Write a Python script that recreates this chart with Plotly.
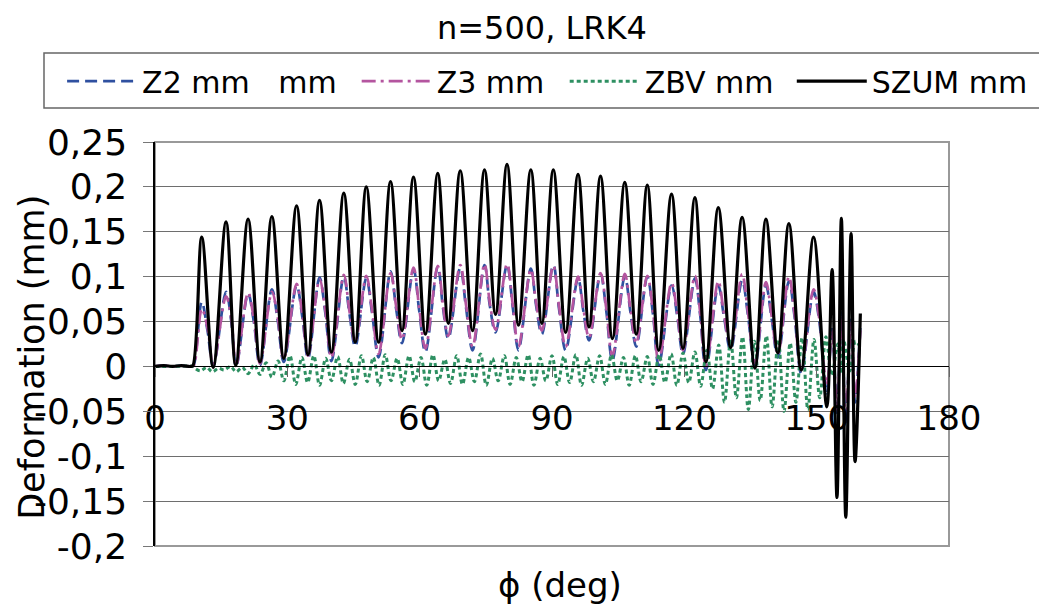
import plotly.graph_objects as go

# ---------------- data ----------------
phi_sz = [0, 2, 4, 6, 8.1, 8.6,
          10.6, 13.2, 16.1, 18.3, 21.1, 23.8, 26.5, 29.2, 32.1, 34.7,
          37.3, 40.0, 42.8, 45.4, 47.9, 50.7, 53.4, 56.0, 58.6, 61.3,
          64.1, 66.5, 69.2, 72.0, 74.7, 77.2, 79.8, 82.4, 85.2, 87.7,
          90.3, 93.1, 95.9, 98.4, 101.0, 103.7, 106.5, 109.1, 111.6, 114.2,
          117.1, 119.7, 122.4, 124.9, 127.7, 130.5, 133.1, 136.0, 138.5, 141.2,
          143.7, 146.5, 149.3, 152.3, 153.5, 154.6, 155.6, 156.6, 157.8, 158.7, 159.9]
szum = [0.0, 0.001, 0.0, 0.001, 0.0, 0.001,
        0.144, -0.001, 0.161, 0.001, 0.164, 0.005, 0.167, 0.009, 0.179, 0.013,
        0.185, 0.016, 0.193, 0.027, 0.200, 0.027, 0.206, 0.040, 0.211, 0.036,
        0.215, 0.048, 0.218, 0.040, 0.219, 0.058, 0.225, 0.046, 0.219, 0.048,
        0.219, 0.038, 0.214, 0.044, 0.212, 0.031, 0.205, 0.036, 0.202, 0.018,
        0.192, 0.020, 0.188, 0.005, 0.177, 0.021, 0.166, -0.002, 0.164, 0.015,
        0.159, -0.004, 0.144, -0.045, 0.108, -0.146, 0.165, -0.168, 0.148, -0.106, 0.059]

phi_z = [0, 2, 4, 6, 8.3, 8.8,
         10.6, 11.9, 13.2,
         16.1, 17.3, 18.4,
         21.1, 22.4, 23.8,
         26.5, 27.8, 29.2,
         32.1, 33.4, 34.7,
         37.3, 38.6, 40.0,
         42.8, 44.1, 45.4,
         47.9, 49.2, 50.7,
         53.4, 54.7, 56.0,
         58.6, 59.9, 61.3,
         64.1, 65.3, 66.5,
         69.2, 70.5, 72.0,
         74.7, 75.9, 77.2,
         79.8, 81.1, 82.4,
         85.2, 86.4, 87.7,
         90.3, 91.6, 93.1,
         95.9, 97.1, 98.4,
         101.0, 102.3, 103.7,
         106.5, 107.8, 109.1,
         111.6, 112.9, 114.2,
         117.1, 118.4, 119.7,
         122.4, 123.6, 124.9,
         127.7, 129.0, 130.5,
         133.1, 134.4, 136.0,
         138.5, 139.8, 141.2,
         143.7, 145.0, 146.5,
         149.3, 150.6, 152.3,
         153.5, 154.6, 155.6, 156.6, 157.8, 158.7, 159.9]
z2 = [0.0, 0.001, 0.0, 0.001, 0.0, 0.002,
      0.072, 0.040, 0.000,
      0.083, 0.050, 0.000,
      0.081, 0.050, 0.001,
      0.086, 0.052, 0.005,
      0.090, 0.055, 0.009,
      0.099, 0.060, 0.006,
      0.100, 0.058, 0.022,
      0.098, 0.060, 0.010,
      0.106, 0.063, 0.026,
      0.108, 0.062, 0.016,
      0.111, 0.065, 0.031,
      0.110, 0.066, 0.018,
      0.113, 0.068, 0.038,
      0.113, 0.066, 0.018,
      0.109, 0.068, 0.036,
      0.113, 0.064, 0.018,
      0.098, 0.062, 0.029,
      0.103, 0.062, 0.007,
      0.100, 0.060, 0.022,
      0.100, 0.058, 0.001,
      0.090, 0.056, 0.014,
      0.098, 0.057, -0.004,
      0.090, 0.055, 0.018,
      0.096, 0.058, 0.000,
      0.090, 0.053, 0.010,
      0.095, 0.055, -0.008,
      0.083, 0.050, -0.030,
      0.045, -0.055, 0.060, -0.065, 0.055, -0.040, 0.045]
z3 = [0.0, 0.001, 0.0, 0.001, 0.0, 0.001,
      0.064, 0.043, 0.002,
      0.078, 0.053, 0.001,
      0.082, 0.053, 0.003,
      0.083, 0.055, 0.008,
      0.092, 0.058, 0.012,
      0.097, 0.063, 0.010,
      0.102, 0.061, 0.027,
      0.101, 0.063, 0.014,
      0.104, 0.066, 0.030,
      0.110, 0.065, 0.020,
      0.112, 0.068, 0.034,
      0.113, 0.069, 0.022,
      0.114, 0.071, 0.041,
      0.114, 0.069, 0.022,
      0.108, 0.071, 0.040,
      0.112, 0.067, 0.022,
      0.100, 0.065, 0.032,
      0.104, 0.065, 0.012,
      0.103, 0.063, 0.026,
      0.101, 0.061, 0.005,
      0.093, 0.059, 0.018,
      0.101, 0.060, 0.000,
      0.095, 0.058, 0.022,
      0.103, 0.061, 0.004,
      0.094, 0.056, 0.013,
      0.100, 0.058, -0.004,
      0.086, 0.053, -0.020,
      0.040, -0.050, 0.055, -0.060, 0.050, -0.035, 0.040]

phi_bv = [0, 4, 8.5,
          9.0, 10.3, 11.7, 13.0, 14.4, 15.7, 17.1, 18.4, 19.8, 21.1,
          22.5, 23.8, 25.2, 26.5, 27.9, 29.2, 30.6, 31.9, 33.3, 34.6,
          36.0, 37.3, 38.7, 40.0, 41.4, 42.7, 44.1, 45.4, 46.8, 48.1,
          49.5, 50.8, 52.2, 53.5, 54.9, 56.2, 57.6, 58.9, 60.3, 61.6,
          63.0, 64.3, 65.7, 67.0, 68.4, 69.7, 71.1, 72.4, 73.8, 75.1,
          76.5, 77.8, 79.2, 80.5, 81.9, 83.2, 84.6, 85.9, 87.3, 88.6,
          90.0, 91.3, 92.7, 94.0, 95.4, 96.7, 98.1, 99.4, 100.8, 102.1,
          103.5, 104.8, 106.2, 107.5, 108.9, 110.2, 111.6, 112.9, 114.3, 115.6,
          117.0, 118.3, 119.7, 121.0, 122.4, 123.7, 125.1, 126.4, 127.8, 129.1,
          130.5, 131.8, 133.2, 134.5, 135.9, 137.2, 138.6, 139.9, 141.3, 142.6,
          144.0, 145.3, 146.7, 148.0, 149.4, 150.7, 152.1, 153.4, 154.8, 155.5,
          156.1, 157.5, 158.8, 160.0]
zbv = [0.0, 0.0, 0.0,
       -0.002, -0.005, -0.001, -0.006, -0.002, -0.004, 0.000, -0.006, -0.001, -0.008,
       0.002, -0.009, 0.004, -0.012, 0.006, -0.016, 0.012, -0.020, 0.010, -0.018,
       0.012, -0.021, 0.009, -0.016, 0.011, -0.019, 0.008, -0.020, 0.012, -0.017,
       0.010, -0.021, 0.013, -0.016, 0.009, -0.020, 0.012, -0.017, 0.010, -0.021,
       0.013, -0.016, 0.008, -0.019, 0.012, -0.020, 0.010, -0.017, 0.014, -0.021,
       0.009, -0.016, 0.012, -0.020, 0.010, -0.017, 0.013, -0.021, 0.009, -0.016,
       0.012, -0.020, 0.011, -0.018, 0.013, -0.021, 0.009, -0.017, 0.012, -0.020,
       0.013, -0.016, 0.010, -0.021, 0.012, -0.017, 0.011, -0.020, 0.013, -0.018,
       0.014, -0.021, 0.015, -0.018, 0.016, -0.022, 0.018, -0.025, 0.024, -0.040,
       0.030, -0.035, 0.033, -0.048, 0.028, -0.038, 0.034, -0.045, 0.030, -0.050,
       0.026, -0.040, 0.032, -0.048, 0.030, -0.035, 0.033, -0.010, 0.025, -0.008,
       0.030, -0.005, 0.028, 0.020]

y_ticks = [-0.2, -0.15, -0.1, -0.05, 0, 0.05, 0.1, 0.15, 0.2, 0.25]
y_tick_labels = ["-0,2", "-0,15", "-0,1", "-0,05", "0", "0,05", "0,1", "0,15", "0,2", "0,25"]
x_ticks = [0, 30, 60, 90, 120, 150, 180]
x_tick_labels = ["0", "30", "60", "90", "120", "150", "180"]

names = ["Z2 mm   mm", "Z3 mm", "ZBV mm", "SZUM mm"]

# ---------------- figure ----------------
FONT = "DejaVu Sans"
fig = go.Figure()
fig.add_trace(go.Scatter(x=phi_z, y=z2, name=names[0], mode="lines", legend="legend",
                         line=dict(color="#2F50A0", width=2.7, dash="12px,6px", shape="spline", smoothing=1)))
fig.add_trace(go.Scatter(x=phi_z, y=z3, name=names[1], mode="lines", legend="legend2",
                         line=dict(color="#B4559F", width=2.7, dash="14px,5px,3px,5px", shape="spline", smoothing=1)))
fig.add_trace(go.Scatter(x=phi_bv, y=zbv, name=names[2], mode="lines", legend="legend3",
                         line=dict(color="#2E9062", width=3, dash="4px,3px", shape="spline", smoothing=1)))
fig.add_trace(go.Scatter(x=phi_sz, y=szum, name=names[3], mode="lines", legend="legend4",
                         line=dict(color="#000000", width=3.2, shape="spline", smoothing=1)))

y_min, y_max = -0.2, 0.25
zero_pos = (0 - y_min) / (y_max - y_min)


def leg(xpos):
    return dict(orientation="h", x=xpos, xanchor="left", y=1.215, yanchor="top",
                borderwidth=0, bgcolor="rgba(0,0,0,0)",
                font=dict(family=FONT, size=30, color="black"),
                itemwidth=70)


fig.update_layout(
    width=1047, height=608,
    margin=dict(l=147, r=106, t=134, b=70),
    paper_bgcolor="white", plot_bgcolor="white",
    font=dict(family=FONT, size=30, color="black"),
    title=dict(text="n=500, LRK4", x=0.510, xanchor="center", xref="container",
               y=0.968, yanchor="middle", yref="container",
               font=dict(family=FONT, size=32, color="black")),
    showlegend=True,
    legend=leg(-0.117), legend2=leg(0.254), legend3=leg(0.516), legend4=leg(0.802),
    xaxis=dict(range=[0, 180], tickvals=x_ticks, ticktext=x_tick_labels,
               showgrid=False, zeroline=False, anchor="free", position=zero_pos,
               showline=True, linecolor="black", linewidth=1,
               ticks="outside", ticklen=10, tickcolor="#666666", tickwidth=1,
               ticklabelstandoff=12,
               tickfont=dict(family=FONT, size=34, color="black")),
    yaxis=dict(range=[y_min, y_max], tickvals=y_ticks, ticktext=y_tick_labels,
               showgrid=True, gridcolor="#6E6E6E", gridwidth=1,
               zeroline=True, zerolinecolor="black", zerolinewidth=1,
               showline=True, linecolor="black", linewidth=1.5,
               ticks="outside", ticklen=10, tickcolor="#777777", tickwidth=1,
               ticklabelstandoff=9,
               tickfont=dict(family=FONT, size=36, color="black")),
    shapes=[dict(type="rect", xref="paper", yref="paper", x0=0, x1=1, y0=0, y1=1,
                 line=dict(color="#999999", width=2), layer="below"),
            dict(type="rect", xref="paper", yref="paper", x0=-0.1398, x1=1.117,
                 y0=1.084, y1=1.220, line=dict(color="#666666", width=1.5),
                 fillcolor="rgba(0,0,0,0)", layer="below")],
    annotations=[
        dict(text="ϕ (deg)", xref="paper", yref="paper", x=0.51, y=-0.097,
             xanchor="center", yanchor="middle", showarrow=False,
             font=dict(family=FONT, size=34, color="black")),
        dict(text="Deformation (mm)", xref="paper", yref="paper", x=-0.155, y=0.468,
             xanchor="center", yanchor="middle", textangle=-90, showarrow=False,
             font=dict(family=FONT, size=35, color="black")),
    ],
)

fig.write_html("out.html")
